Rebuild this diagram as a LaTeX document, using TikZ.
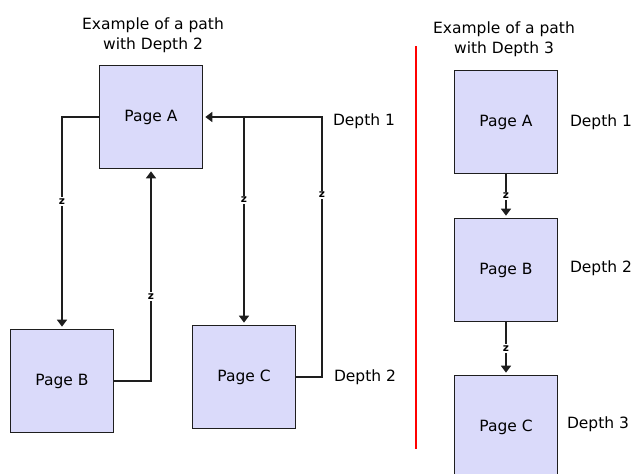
\documentclass[tikz,border=0pt]{standalone}
\usepackage{fontspec}
\setmainfont{DejaVu Sans}
\usetikzlibrary{arrows.meta}
\definecolor{pagefill}{RGB}{218,218,250}
\definecolor{ink}{RGB}{30,30,30}
\tikzset{
  PageStyle/.style = { draw = ink, line width = 1.6pt, fill = pagefill,
                       minimum width = 103pt, minimum height = 103pt,
                       inner sep = 0pt, font = \fontsize{15.5}{18}\selectfont },
  TextStyle/.style = { font = \fontsize{15.5}{19.5}\selectfont, align = center },
  LinkStyle/.style = { draw = ink, line width = 1.6pt },
  ArrowStyle/.style = { LinkStyle, -{Triangle[width=10pt,length=7pt]},
                        shorten > = 2pt },
  ZStyle/.style = { fill = white, inner sep = 1.5pt,
                    font = \fontsize{10.5}{10.5}\bfseries\selectfont } }

\begin{document}
\begin{tikzpicture}[x=1pt,y=-1pt]
  \clip (0,0) rectangle (633,474);
  % path with depth 2
  \node[TextStyle](T2) at (153,35) {Example of a path\\with Depth 2};
  \node[PageStyle](A) at (151,117) {Page A};
  \node[PageStyle](B) at (62,381) {Page B};
  \node[PageStyle](C) at (244,377) {Page C};
  \node[TextStyle](D1) at (364,121) {Depth 1};
  \node[TextStyle](D2) at (365,377) {Depth 2};
  \coordinate (split) at (244,117);
  \coordinate (turn) at (322,117);
  \draw[ArrowStyle] (A.west) -| node[ZStyle, pos=0.70]{z} (B.north);
  \draw[ArrowStyle] (B.east) -| node[ZStyle, pos=0.70]{z} (A.south);
  \draw[ArrowStyle] (C.east) -| node[ZStyle, pos=0.85]{z} (turn) -- (A.east);
  \draw[ArrowStyle] (split) -- node[ZStyle, pos=0.40]{z} (C.north);
  % separator
  \coordinate (top) at (416,46);
  \coordinate (bot) at (416,449);
  \draw[red, line width=1.5pt] (top) -- (bot);
  % path with depth 3
  \node[TextStyle](T3) at (504,39) {Example of a path\\with Depth 3};
  \node[PageStyle](RA) at (506,122) {Page A};
  \node[PageStyle](RB) at (506,270) {Page B};
  \node[PageStyle](RC) at (506,427) {Page C};
  \node[TextStyle](R1) at (601,122) {Depth 1};
  \node[TextStyle](R2) at (601,268) {Depth 2};
  \node[TextStyle](R3) at (598,424) {Depth 3};
  \draw[ArrowStyle] (RA.south) -- node[ZStyle]{z} (RB.north);
  \draw[ArrowStyle] (RB.south) -- node[ZStyle]{z} (RC.north);
\end{tikzpicture}
\end{document}
